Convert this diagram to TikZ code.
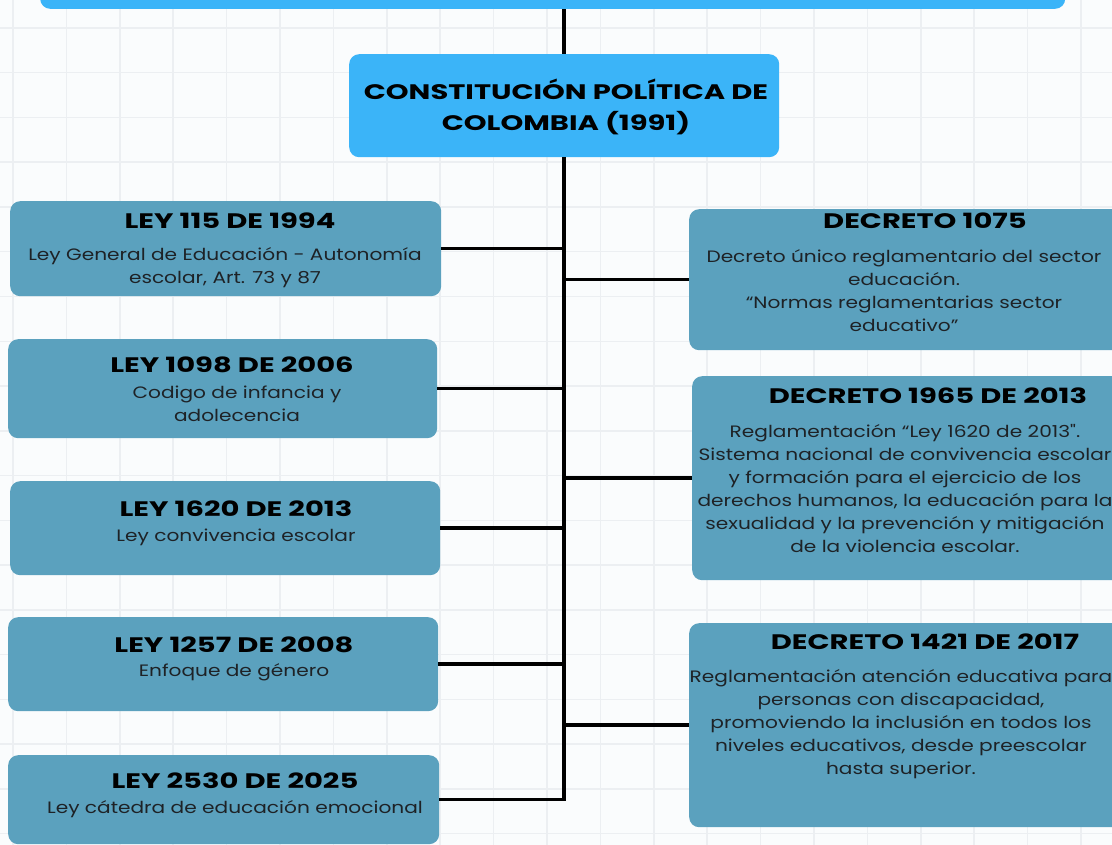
\documentclass[tikz,border=0pt]{standalone}
\usepackage{fontspec}
\setmainfont{Poppins}
\newfontfamily\ttlfont[FakeStretch=1.38]{Poppins}
\newfontfamily\bdyfont[FakeStretch=1.22]{Poppins}
\definecolor{cblue}{HTML}{3BB4F8}
\definecolor{cteal}{HTML}{5BA1BE}
\definecolor{cgrid}{HTML}{ECEFF2}
\definecolor{cbg}{HTML}{FAFCFD}
\definecolor{ctext}{HTML}{1E2226}
\begin{document}
\begin{tikzpicture}[x=1pt,y=-1pt,
  bluebox/.style={fill=cblue, rounded corners=10pt, draw=none, inner sep=0pt},
  tealbox/.style={fill=cteal, rounded corners=10pt, draw=none, inner sep=0pt},
  ttl/.style={font=\ttlfont\bfseries\fontsize{21}{24}\selectfont, text=black, inner sep=0pt},
  ctl/.style={font=\ttlfont\bfseries\fontsize{21}{31}\selectfont, text=black, inner sep=0pt, align=center},
  bdy/.style={font=\bdyfont\fontsize{16.5}{23}\selectfont, text=ctext, align=center, inner sep=0pt},
  conn/.style={line width=3.5pt, draw=black},
  gridc/.style={line width=1.5pt, draw=cgrid}]
\useasboundingbox[fill=cbg] (0,0) rectangle (1112,845);
\clip (0,0) rectangle (1112,845);
\foreach \i in {0,...,20} \draw[gridc] ({13+53.4*\i},0) -- ({13+53.4*\i},845);
\foreach \j in {0,...,18} \draw[gridc] (0,{28+44.75*\j}) -- (1112,{28+44.75*\j});

% top bar and central node
\node[bluebox, anchor=south west, minimum width=1025pt, minimum height=22pt] (top) at (40,9) {};
\node[bluebox, anchor=north west, minimum width=430pt, minimum height=103pt] (c) at (349,54) {};
\node[ctl] (ct) at (566,106.5) {CONSTITUCIÓN POLÍTICA DE\\COLOMBIA (1991)};

% left boxes
\node[tealbox, anchor=north west, minimum width=431pt, minimum height=95pt] (l1) at (10,201) {};
\node[tealbox, anchor=north west, minimum width=429pt, minimum height=99pt] (l2) at (8,339) {};
\node[tealbox, anchor=north west, minimum width=430pt, minimum height=94pt] (l3) at (10,481) {};
\node[tealbox, anchor=north west, minimum width=430pt, minimum height=94pt] (l4) at (8,617) {};
\node[tealbox, anchor=north west, minimum width=431pt, minimum height=89pt] (l5) at (8,755) {};

\node[ttl] (l1t) at (230,220.5) {LEY 115 DE 1994};
\node[bdy] (l1b) at (225,267.5) {Ley General de Educación - Autonomía\\escolar, Art. 73 y 87};
\node[ttl] (l2t) at (232,364.5) {LEY 1098 DE 2006};
\node[bdy] (l2b) at (237,403.5) {Codigo de infancia y\\adolecencia};
\node[ttl] (l3t) at (236,508.5) {LEY 1620 DE 2013};
\node[bdy] (l3b) at (236,537) {Ley convivencia escolar};
\node[ttl] (l4t) at (234,644.5) {LEY 1257 DE 2008};
\node[bdy] (l4b) at (234,672) {Enfoque de género};
\node[ttl] (l5t) at (235,780.5) {LEY 2530 DE 2025};
\node[bdy] (l5b) at (235,809) {Ley cátedra de educación emocional};

% right boxes
\node[tealbox, anchor=north west, minimum width=433pt, minimum height=141pt] (r1) at (689,209) {};
\node[tealbox, anchor=north west, minimum width=430pt, minimum height=204pt] (r2) at (692,376) {};
\node[tealbox, anchor=north west, minimum width=433pt, minimum height=204pt] (r3) at (689,623) {};

\node[ttl] (r1t) at (925,220.5) {DECRETO 1075};
\node[bdy] (r1b) at (904,290.5) {Decreto único reglamentario del sector\\educación.\\“Normas reglamentarias sector\\educativo”};
\node[ttl] (r2t) at (928,395.5) {DECRETO 1965 DE 2013};
\node[bdy] (r2b) at (905,489) {Reglamentación “Ley 1620 de 2013".\\Sistema nacional de convivencia escolar\\y formación para el ejercicio de los\\derechos humanos, la educación para la\\sexualidad y la prevención y mitigación\\de la violencia escolar.};
\node[ttl] (r3t) at (925,641.5) {DECRETO 1421 DE 2017};
\node[bdy] (r3b) at (901,724.5) {Reglamentación atención educativa para\\personas con discapacidad,\\promoviendo la inclusión en todos los\\niveles educativos, desde preescolar\\hasta superior.};

% connectors
\draw[conn] (c.north) -- (c.north |- top.south);
\draw[conn] (c.south) |- (l5.east);
\foreach \n in {l1,l2,l3,l4} \draw[conn] (\n.east) -- (\n.east -| c.south);
\foreach \n in {r1,r2,r3} \draw[conn] (\n.west) -- (\n.west -| c.south);
\end{tikzpicture}
\end{document}
